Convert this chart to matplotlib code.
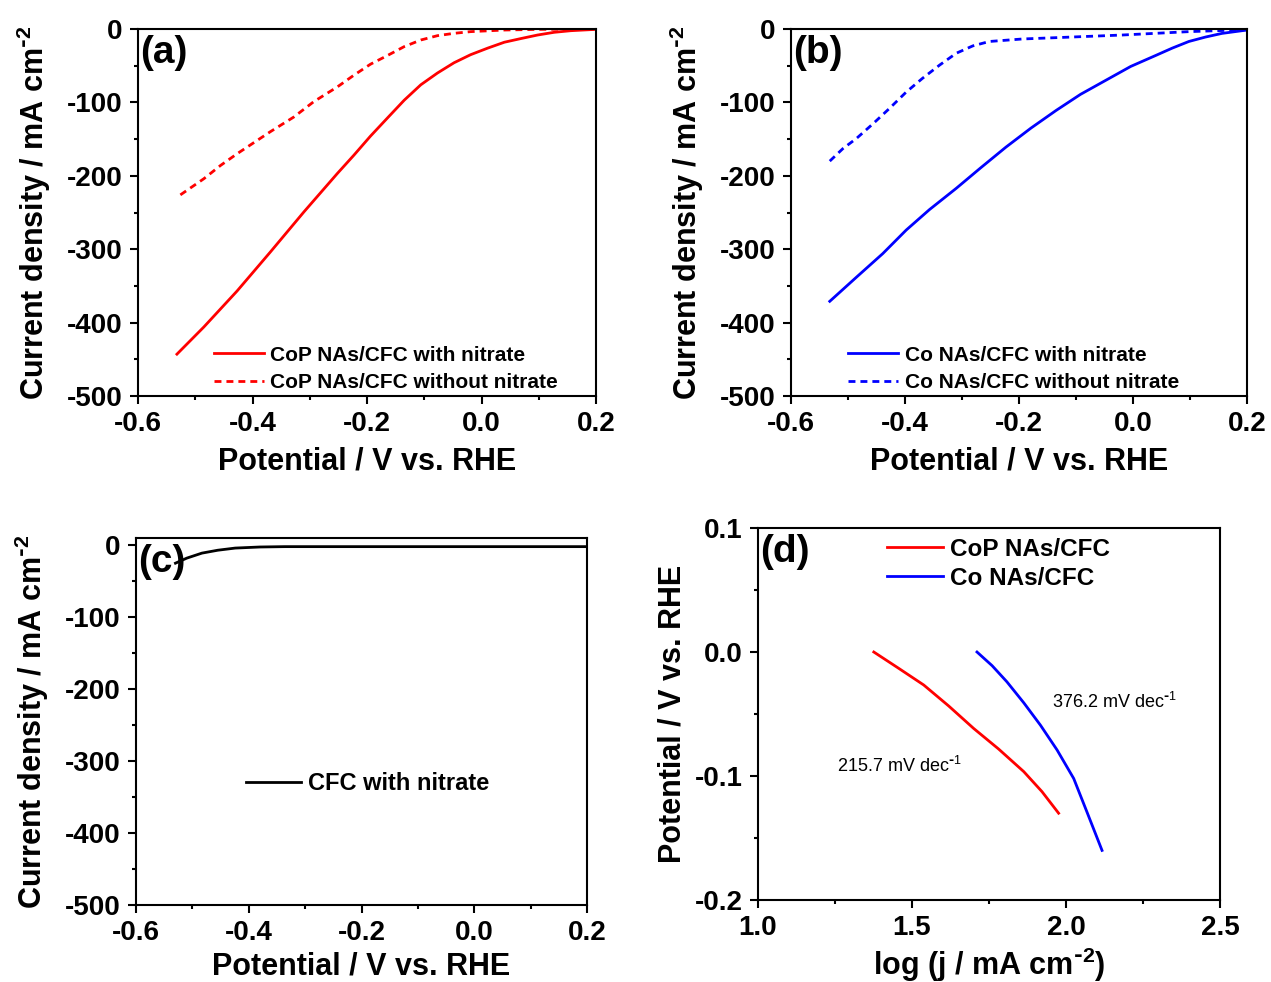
import numpy as np
import matplotlib
matplotlib.use('Agg')
import matplotlib.pyplot as plt
from matplotlib.ticker import MultipleLocator

plt.rcParams['font.family'] = ['Liberation Sans', 'DejaVu Sans']
plt.rcParams['font.weight'] = 'bold'
plt.rcParams['mathtext.default'] = 'regular'
plt.rcParams['axes.unicode_minus'] = False
plt.rcParams['axes.linewidth'] = 1.5

# (a) CoP NAs/CFC
a_with_x = [-0.532, -0.485, -0.427, -0.369, -0.310, -0.252, -0.223, -0.194, -0.164, -0.135,
            -0.106, -0.077, -0.048, -0.019, 0.011, 0.040, 0.069, 0.098, 0.127, 0.156, 0.2]
a_with_y = [-443, -406, -357, -304, -249, -197, -172, -146, -121, -97,
            -76, -60, -46, -35, -26, -18, -13, -8.2, -4.5, -2.3, -0.5]
a_wo_x = [-0.526, -0.485, -0.456, -0.427, -0.369, -0.328, -0.293, -0.252, -0.223, -0.194,
          -0.164, -0.135, -0.106, -0.077, -0.048, -0.019, 0.040, 0.098, 0.2]
a_wo_y = [-226, -204, -186, -170, -140, -120, -99, -79, -63, -48,
          -36, -24, -15, -9.1, -5.9, -3.6, -1.4, -0.5, 0]

# (b) Co NAs/CFC
b_with_x = [-0.532, -0.485, -0.439, -0.398, -0.357, -0.310, -0.267, -0.223, -0.179, -0.135,
            -0.092, -0.048, -0.004, 0.040, 0.069, 0.098, 0.127, 0.156, 0.2]
b_with_y = [-371, -338, -306, -274, -246, -217, -189, -161, -135, -111,
            -89, -70, -51, -36, -26, -17, -11, -6, -1.4]
b_wo_x = [-0.532, -0.509, -0.485, -0.456, -0.427, -0.398, -0.369, -0.339, -0.310, -0.281,
          -0.252, -0.194, -0.135, -0.019, 0.098, 0.2]
b_wo_y = [-180, -163, -149, -129, -108, -86, -67, -49, -33, -23,
          -17, -13.6, -11.8, -8.2, -3.6, -0.9]

# (c) bare CFC
c_x = [-0.53, -0.51, -0.483, -0.455, -0.424, -0.38, -0.336, -0.2, 0.0, 0.2]
c_y = [-25, -18, -11, -7, -4, -2.5, -2, -2, -2, -2]

# (d) Tafel
d_cop_x = [1.376, 1.457, 1.538, 1.619, 1.700, 1.781, 1.863, 1.922, 1.976]
d_cop_y = [0.0, -0.0132, -0.0266, -0.0435, -0.0616, -0.0782, -0.0965, -0.1126, -0.130]
d_co_x = [1.711, 1.760, 1.808, 1.863, 1.917, 1.971, 2.025, 2.068, 2.117]
d_co_y = [0.0, -0.011, -0.024, -0.041, -0.059, -0.079, -0.102, -0.129, -0.160]

W, H = 1271, 982
fig = plt.figure(figsize=(W / 100, H / 100), dpi=100)


def px_axes(l, t, r, b):
    return fig.add_axes([l / W, 1 - b / H, (r - l) / W, (b - t) / H])


def style(ax):
    ax.tick_params(which='both', direction='out', width=1.5, labelsize=20, pad=5)
    ax.tick_params(which='major', length=6)
    ax.tick_params(which='minor', length=3)
    for lab in ax.get_xticklabels() + ax.get_yticklabels():
        lab.set_fontweight('bold')


sup = r'$^{\text{-}2}$'
jlabel = 'Current density / mA cm' + sup
elabel = 'Potential / V vs. RHE'


def lsv_axes(ax, ylim_top=0, xpad=7):
    ax.set_xlim(-0.6, 0.2)
    ax.set_ylim(-500, ylim_top)
    ax.set_xticks([-0.6, -0.4, -0.2, 0.0, 0.2])
    ax.set_yticks([0, -100, -200, -300, -400, -500])
    ax.xaxis.set_minor_locator(MultipleLocator(0.1))
    ax.yaxis.set_minor_locator(MultipleLocator(50))
    ax.set_xlabel(elabel, fontsize=22, fontweight='bold', labelpad=xpad)
    ax.set_ylabel(jlabel, fontsize=22, fontweight='bold', labelpad=10)
    style(ax)


dash = (0, (2.5, 1.8))

axa = px_axes(138, 29, 596, 396)
axa.plot(a_with_x, a_with_y, color='red', lw=2, label='CoP NAs/CFC with nitrate')
axa.plot(a_wo_x, a_wo_y, color='red', lw=2, ls=dash, label='CoP NAs/CFC without nitrate')
lsv_axes(axa)
axa.text(0.005, 0.985, '(a)', transform=axa.transAxes, fontsize=28, fontweight='bold', va='top', ha='left')
axa.legend(loc='lower left', bbox_to_anchor=(0.134, -0.029), frameon=False, fontsize=15,
           handlelength=2.4, handletextpad=0.3, labelspacing=0.4, borderpad=0.2)

axb = px_axes(791, 29, 1247, 396)
axb.plot(b_with_x, b_with_y, color='blue', lw=2, label='Co NAs/CFC with nitrate')
axb.plot(b_wo_x, b_wo_y, color='blue', lw=2, ls=dash, label='Co NAs/CFC without nitrate')
lsv_axes(axb)
axb.text(0.005, 0.985, '(b)', transform=axb.transAxes, fontsize=28, fontweight='bold', va='top', ha='left')
axb.legend(loc='lower left', bbox_to_anchor=(0.094, -0.029), frameon=False, fontsize=15,
           handlelength=2.4, handletextpad=0.3, labelspacing=0.4, borderpad=0.2)

axc = px_axes(136, 538, 587, 905)
axc.plot(c_x, c_y, color='black', lw=2, label='CFC with nitrate')
lsv_axes(axc, ylim_top=10, xpad=4)
axc.text(0.005, 0.985, '(c)', transform=axc.transAxes, fontsize=28, fontweight='bold', va='top', ha='left')
axc.legend(loc='center left', bbox_to_anchor=(0.208, 0.33), frameon=False, fontsize=17,
           handlelength=2.3, handletextpad=0.3, borderpad=0.2)

axd = px_axes(758, 528, 1220, 900)
axd.plot(d_cop_x, d_cop_y, color='red', lw=2, label='CoP NAs/CFC')
axd.plot(d_co_x, d_co_y, color='blue', lw=2, label='Co NAs/CFC')
axd.set_xlim(1.0, 2.5)
axd.set_ylim(-0.2, 0.1)
axd.set_xticks([1.0, 1.5, 2.0, 2.5])
axd.set_yticks([-0.2, -0.1, 0.0, 0.1])
axd.xaxis.set_minor_locator(MultipleLocator(0.25))
axd.yaxis.set_minor_locator(MultipleLocator(0.05))
axd.set_xlabel('log (j / mA cm' + sup + ')', fontsize=22, fontweight='bold', labelpad=3)
axd.set_ylabel(elabel, fontsize=22, fontweight='bold', labelpad=5)
style(axd)
axd.text(0.005, 0.985, '(d)', transform=axd.transAxes, fontsize=28, fontweight='bold', va='top', ha='left')
axd.legend(loc='upper left', bbox_to_anchor=(0.243, 1.02), frameon=False, fontsize=17.5,
           handlelength=2.3, handletextpad=0.3, labelspacing=0.25, borderpad=0.2)
axd.text(1.255, -0.092, r'215.7 mV dec$^{\text{-}1}$', fontsize=13, fontweight='normal', ha='left', va='center')
axd.text(1.955, -0.040, r'376.2 mV dec$^{\text{-}1}$', fontsize=13, fontweight='normal', ha='left', va='center')

fig.savefig('out.png', dpi=100)
